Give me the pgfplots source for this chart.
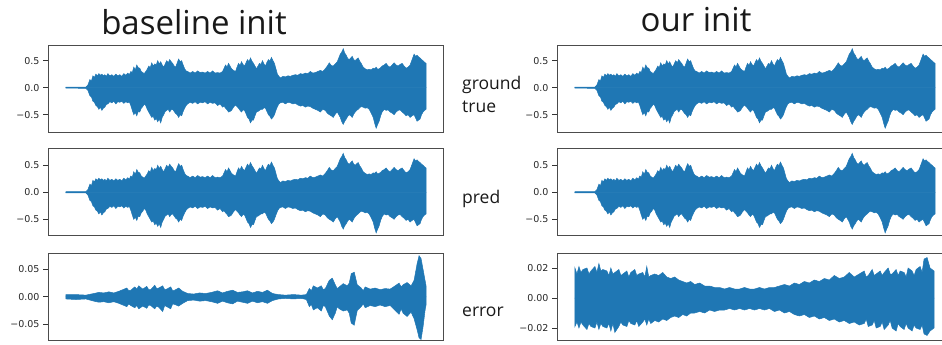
\documentclass[border=0pt]{standalone}
\usepackage{fontspec}
\setmainfont{Open Sans}
\newfontfamily\tickfont{DejaVu Sans}
\usepackage{pgfplots}
\usepackage{pgfplotstable}
\pgfplotsset{compat=1.18}
\definecolor{mplblue}{HTML}{1F77B4}

\pgfplotstableread{
x up lo
0 0.010 -0.010
10 0.012 -0.010
20 0.012 -0.012
22 0.05 -0.05
24 0.15 -0.15
25.5 0.12 -0.17
27 0.22 -0.25
28.5 0.19 -0.27
30 0.25 -0.33
31.5 0.22 -0.35
33 0.26 -0.40
34.5 0.23 -0.36
36 0.25 -0.42
37.5 0.22 -0.38
39 0.24 -0.36
40.5 0.21 -0.31
42 0.26 -0.30
44 0.22 -0.26
46 0.24 -0.28
48 0.21 -0.25
50 0.25 -0.30
52 0.22 -0.26
54 0.24 -0.27
56 0.21 -0.25
58 0.26 -0.29
60 0.23 -0.26
62 0.27 -0.28
63.5 0.24 -0.26
65 0.30 -0.33
66.5 0.28 -0.42
68 0.38 -0.50
69.5 0.33 -0.46
71 0.42 -0.52
72.5 0.37 -0.44
74 0.36 -0.45
75.5 0.30 -0.38
77 0.28 -0.35
78.5 0.26 -0.30
80 0.30 -0.33
81.5 0.34 -0.40
83 0.40 -0.45
84.5 0.37 -0.50
86 0.46 -0.55
87.5 0.40 -0.53
89 0.44 -0.60
90.5 0.42 -0.57
92 0.50 -0.63
93.5 0.44 -0.58
95 0.48 -0.65
96.5 0.42 -0.55
98 0.38 -0.50
99.5 0.44 -0.44
101 0.50 -0.42
102.5 0.46 -0.40
104 0.52 -0.45
105.5 0.48 -0.41
107 0.45 -0.40
108.5 0.40 -0.44
110 0.38 -0.48
111.5 0.46 -0.50
113 0.53 -0.55
114.5 0.48 -0.50
116 0.50 -0.52
117.5 0.42 -0.44
119 0.35 -0.38
120.5 0.31 -0.33
122 0.30 -0.30
124.5 0.27 -0.27
127 0.30 -0.29
129.5 0.27 -0.26
132 0.31 -0.30
134.5 0.28 -0.27
137 0.29 -0.28
139.5 0.27 -0.26
142 0.30 -0.30
144.5 0.27 -0.27
147 0.31 -0.29
149.5 0.27 -0.28
152 0.28 -0.33
154.5 0.27 -0.30
157 0.30 -0.36
158.5 0.36 -0.34
160 0.42 -0.38
161.5 0.38 -0.41
163 0.45 -0.45
164.5 0.40 -0.44
166 0.35 -0.42
168 0.32 -0.36
170 0.30 -0.32
171.5 0.38 -0.35
173 0.45 -0.38
174.5 0.41 -0.42
176 0.48 -0.45
177.5 0.43 -0.41
179 0.40 -0.42
180.5 0.46 -0.48
182 0.52 -0.55
183.5 0.48 -0.58
185 0.55 -0.65
186.5 0.49 -0.60
188 0.45 -0.60
189.5 0.40 -0.52
191 0.35 -0.45
192.5 0.40 -0.44
194 0.45 -0.42
195.5 0.43 -0.40
197 0.50 -0.40
198.5 0.44 -0.37
200 0.40 -0.38
201.5 0.47 -0.44
203 0.52 -0.50
204.5 0.49 -0.53
206 0.56 -0.58
207.5 0.50 -0.55
209 0.45 -0.50
210.5 0.35 -0.42
212 0.25 -0.35
213.5 0.21 -0.30
215 0.18 -0.28
217.5 0.21 -0.27
220 0.20 -0.30
222.5 0.22 -0.27
225 0.21 -0.28
227.5 0.23 -0.30
230 0.24 -0.29
232.5 0.23 -0.32
235 0.26 -0.34
237.5 0.25 -0.33
240 0.27 -0.36
242.5 0.26 -0.34
245 0.30 -0.35
247.5 0.27 -0.38
250 0.28 -0.40
252.5 0.30 -0.42
255 0.32 -0.45
257.5 0.30 -0.40
260 0.35 -0.42
262 0.40 -0.47
264 0.46 -0.50
266 0.41 -0.52
268 0.40 -0.55
270 0.44 -0.49
272 0.48 -0.45
273.5 0.55 -0.50
275 0.62 -0.55
276.5 0.66 -0.63
278 0.72 -0.68
279.5 0.64 -0.62
281 0.60 -0.58
282.5 0.54 -0.53
284 0.52 -0.50
285.5 0.55 -0.52
287 0.58 -0.55
288.5 0.52 -0.49
290 0.50 -0.45
291.5 0.53 -0.42
293 0.55 -0.40
294.5 0.49 -0.37
296 0.45 -0.35
298 0.38 -0.36
300 0.35 -0.38
302 0.33 -0.37
304 0.34 -0.40
306 0.33 -0.47
308 0.36 -0.55
309.5 0.35 -0.66
311 0.38 -0.75
312.5 0.34 -0.68
314 0.35 -0.62
315.5 0.37 -0.52
317 0.40 -0.45
319 0.42 -0.40
321 0.45 -0.42
323 0.40 -0.41
325 0.38 -0.45
327 0.42 -0.47
329 0.46 -0.50
331 0.42 -0.45
333 0.40 -0.42
335 0.43 -0.41
337 0.45 -0.45
339 0.40 -0.48
341 0.36 -0.52
343 0.38 -0.50
345 0.42 -0.55
347 0.52 -0.52
349 0.62 -0.50
350.5 0.58 -0.56
352 0.60 -0.62
353.5 0.57 -0.60
355 0.55 -0.58
356.5 0.52 -0.50
358 0.50 -0.45
359.5 0.47 -0.42
361 0.45 -0.40
}\gt

\pgfplotstableread{
x up lo
0 0.004 -0.004
10 0.004 -0.005
20 0.003 -0.004
28 0.006 -0.008
33 0.008 -0.010
38 0.007 -0.009
43 0.009 -0.011
48 0.007 -0.009
53 0.010 -0.012
57 0.013 -0.015
61 0.016 -0.018
63 0.011 -0.013
65 0.012 -0.016
69 0.018 -0.020
71 0.014 -0.016
73 0.020 -0.022
77 0.014 -0.017
81 0.019 -0.021
83 0.013 -0.015
85 0.013 -0.016
89 0.021 -0.022
91 0.015 -0.017
93 0.016 -0.019
97 0.020 -0.027
99 0.013 -0.016
101 0.014 -0.018
105 0.018 -0.022
107 0.011 -0.013
109 0.012 -0.014
113 0.016 -0.017
117 0.010 -0.012
122 0.006 -0.007
128 0.005 -0.006
134 0.007 -0.008
140 0.006 -0.007
146 0.008 -0.009
152 0.011 -0.012
157 0.007 -0.008
162 0.010 -0.011
167 0.012 -0.013
172 0.008 -0.008
177 0.009 -0.010
182 0.011 -0.012
187 0.007 -0.008
192 0.010 -0.011
197 0.008 -0.009
202 0.012 -0.012
207 0.006 -0.007
213 0.004 -0.004
220 0.003 -0.003
228 0.004 -0.004
236 0.003 -0.003
241 0.004 -0.005
244 0.015 -0.018
246 0.011 -0.014
248 0.020 -0.024
252 0.016 -0.020
256 0.020 -0.026
258 0.013 -0.016
260 0.015 -0.018
264 0.030 -0.035
267 0.034 -0.042
270 0.022 -0.030
272 0.015 -0.018
274 0.018 -0.022
278 0.024 -0.026
282 0.020 -0.024
284 0.025 -0.030
286 0.042 -0.048
289 0.045 -0.052
292 0.022 -0.025
296 0.016 -0.018
298 0.011 -0.013
300 0.018 -0.020
305 0.014 -0.016
310 0.016 -0.018
315 0.013 -0.015
320 0.015 -0.018
325 0.014 -0.016
330 0.020 -0.025
334 0.025 -0.032
336 0.018 -0.022
338 0.022 -0.030
342 0.026 -0.036
346 0.020 -0.028
349 0.030 -0.040
352 0.060 -0.060
354 0.075 -0.075
356 0.070 -0.078
358 0.050 -0.055
360 0.030 -0.025
361 0.020 -0.015
}\errbase

\pgfplotstableread{
x up lo
0 0.020 -0.019
2 0.016 -0.016
4 0.021 -0.020
6 0.017 -0.016
8 0.019 -0.018
12 0.020 -0.021
14 0.016 -0.017
16 0.018 -0.019
20 0.021 -0.020
22 0.017 -0.016
24 0.023 -0.021
26 0.018 -0.017
28 0.019 -0.019
32 0.018 -0.020
34 0.015 -0.017
36 0.020 -0.022
38 0.016 -0.017
40 0.017 -0.023
44 0.019 -0.019
46 0.015 -0.016
48 0.016 -0.018
52 0.018 -0.019
54 0.014 -0.015
56 0.017 -0.017
60 0.019 -0.018
62 0.015 -0.015
64 0.016 -0.019
68 0.017 -0.016
70 0.014 -0.014
72 0.021 -0.018
74 0.014 -0.014
76 0.015 -0.017
80 0.016 -0.015
84 0.015 -0.016
88 0.017 -0.014
92 0.014 -0.015
96 0.013 -0.013
100 0.014 -0.012
104 0.012 -0.013
108 0.011 -0.011
112 0.010 -0.012
116 0.011 -0.010
120 0.009 -0.010
125 0.010 -0.009
130 0.008 -0.010
135 0.008 -0.008
140 0.007 -0.009
145 0.007 -0.008
150 0.006 -0.008
155 0.007 -0.007
160 0.006 -0.008
165 0.006 -0.007
170 0.007 -0.008
175 0.006 -0.007
180 0.006 -0.008
185 0.007 -0.007
190 0.006 -0.008
195 0.007 -0.007
200 0.007 -0.009
205 0.008 -0.008
210 0.009 -0.010
215 0.008 -0.009
220 0.010 -0.011
225 0.009 -0.012
230 0.011 -0.011
235 0.010 -0.013
240 0.012 -0.012
245 0.011 -0.014
250 0.013 -0.013
255 0.012 -0.015
260 0.015 -0.014
265 0.013 -0.016
270 0.014 -0.015
275 0.017 -0.017
280 0.014 -0.016
285 0.016 -0.018
290 0.018 -0.017
292 0.014 -0.014
294 0.015 -0.019
298 0.019 -0.018
300 0.015 -0.015
302 0.016 -0.020
306 0.018 -0.019
308 0.015 -0.016
310 0.017 -0.021
314 0.020 -0.018
316 0.016 -0.015
318 0.016 -0.020
322 0.019 -0.022
324 0.015 -0.017
326 0.018 -0.019
330 0.017 -0.021
332 0.014 -0.017
334 0.020 -0.020
338 0.018 -0.022
340 0.015 -0.018
342 0.019 -0.020
346 0.021 -0.021
348 0.017 -0.018
350 0.026 -0.024
353 0.027 -0.025
356 0.020 -0.022
360 0.018 -0.020
}\errour

\pgfplotsset{
  wave/.style={
    anchor=south west, scale only axis, width=395pt,
    xmin=-18, xmax=378, xtick=\empty, ytick pos=left,
    scaled y ticks=false,
    tick align=outside, major tick length=5pt,
    axis line style={black!70, line width=0.8pt},
    every tick/.style={black!80, line width=0.8pt},
    yticklabel style={font=\tickfont\fontsize{9.5}{11}\selectfont, text=black!85},
  },
  env/.style={fill=mplblue, draw=mplblue, line width=0.5pt},
}

\begin{document}
\begin{tikzpicture}
\useasboundingbox (0pt,0pt) rectangle (942pt,345pt);
\clip (0pt,0pt) rectangle (942pt,345pt);
% left column
\begin{axis}[wave, at={(48pt,213pt)}, height=87pt, ymin=-0.82, ymax=0.79,
  ytick={-0.5,0,0.5}, yticklabels={−0.5,0.0,0.5}]
\addplot[env] table[x=x,y=up]{\gt} \closedcycle;
\addplot[env] table[x=x,y=lo]{\gt} \closedcycle;
\end{axis}
\begin{axis}[wave, at={(48pt,110pt)}, height=86.5pt, ymin=-0.79, ymax=0.81,
  ytick={-0.5,0,0.5}, yticklabels={−0.5,0.0,0.5}]
\addplot[env] table[x=x,y=up]{\gt} \closedcycle;
\addplot[env] table[x=x,y=lo]{\gt} \closedcycle;
\end{axis}
\begin{axis}[wave, at={(48pt,5pt)}, height=87pt, ymin=-0.079, ymax=0.080,
  ytick={-0.05,0,0.05}, yticklabels={−0.05,0.00,0.05}]
\addplot[env] table[x=x,y=up]{\errbase} \closedcycle;
\addplot[env] table[x=x,y=lo]{\errbase} \closedcycle;
\end{axis}
% right column
\begin{axis}[wave, at={(557pt,213pt)}, height=87pt, ymin=-0.82, ymax=0.79,
  ytick={-0.5,0,0.5}, yticklabels={−0.5,0.0,0.5}]
\addplot[env] table[x=x,y=up]{\gt} \closedcycle;
\addplot[env] table[x=x,y=lo]{\gt} \closedcycle;
\end{axis}
\begin{axis}[wave, at={(557pt,110pt)}, height=86.5pt, ymin=-0.79, ymax=0.81,
  ytick={-0.5,0,0.5}, yticklabels={−0.5,0.0,0.5}]
\addplot[env] table[x=x,y=up]{\gt} \closedcycle;
\addplot[env] table[x=x,y=lo]{\gt} \closedcycle;
\end{axis}
\begin{axis}[wave, at={(557pt,5pt)}, height=87pt, ymin=-0.028, ymax=0.030,
  ytick={-0.02,0,0.02}, yticklabels={−0.02,0.00,0.02}]
\addplot[env] table[x=x,y=up]{\errour} \closedcycle;
\addplot[env] table[x=x,y=lo]{\errour} \closedcycle;
\end{axis}
% titles
\node[anchor=base, font=\fontsize{33}{36}\selectfont, text=black!90] at (194pt,310pt) {baseline init};
\node[anchor=base, font=\fontsize{33}{36}\selectfont, text=black!90] at (696pt,313pt) {our init};
% row labels
\begin{scope}[every node/.style={anchor=base west, inner sep=0pt, font=\fontsize{17.5}{20}\selectfont, text=black!90}]
\node at (462pt,255pt) {ground};
\node at (462pt,232pt) {true};
\node at (462pt,141pt) {pred};
\node at (462pt,28pt) {error};
\end{scope}
\end{tikzpicture}
\end{document}
